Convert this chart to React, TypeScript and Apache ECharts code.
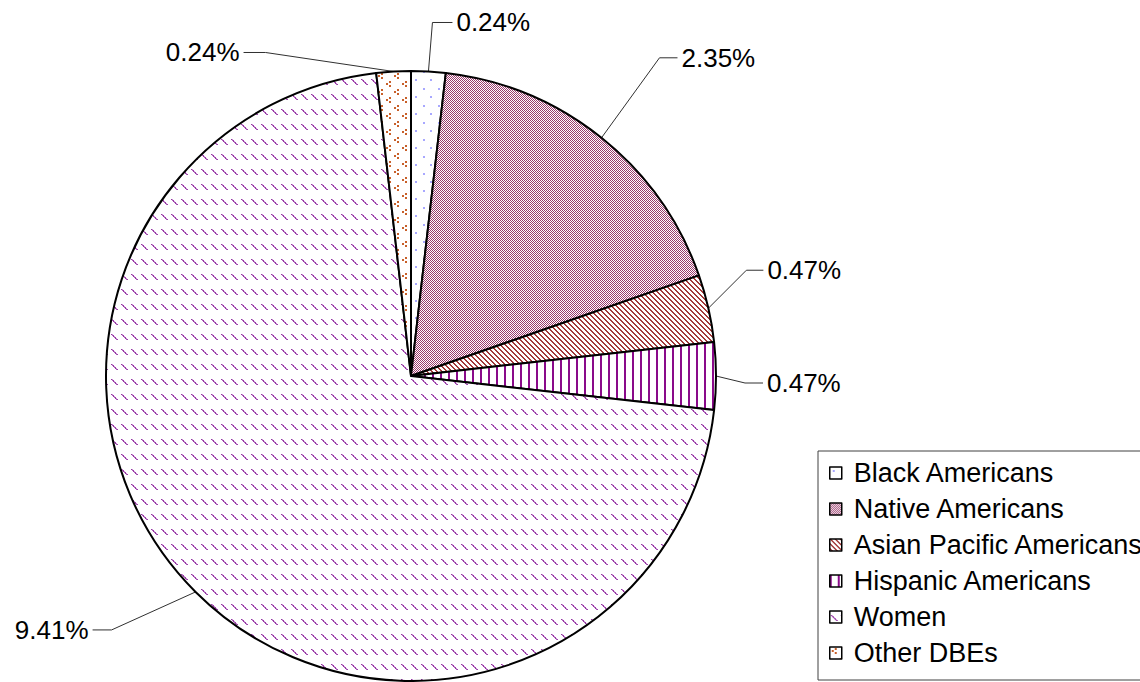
import React, { useEffect, useRef } from 'react';
import * as echarts from 'echarts';

const categories = [
  'Black Americans',
  'Native Americans',
  'Asian Pacific Americans',
  'Hispanic Americans',
  'Women',
  'Other DBEs',
];
const values = [0.24, 2.35, 0.47, 0.47, 9.41, 0.24];

// leader line layout (elbow offset from slice edge, then horizontal run)
const leaderElbow = [
  [4, -49],
  [58, -80],
  [38, -38],
  [29, 7],
  [-84, 38],
  [-128, -19],
];
const leaderRun = [20, 18, 17, 18, -19, -22];

const CX = 411;
const CY = 376;
const R = 305;

type Draw = (ctx: CanvasRenderingContext2D) => void;

function makeTile(w: number, h: number, draw: Draw) {
  const c = document.createElement('canvas');
  c.width = w;
  c.height = h;
  const ctx = c.getContext('2d') as CanvasRenderingContext2D;
  ctx.fillStyle = '#ffffff';
  ctx.fillRect(0, 0, w, h);
  draw(ctx);
  return c;
}

function px(ctx: CanvasRenderingContext2D, x: number, y: number, color: string, s = 1) {
  ctx.fillStyle = color;
  ctx.fillRect(x, y, s, s);
}

function patterns() {
  const black = makeTile(15, 17, (ctx) => {
    px(ctx, 3, 3, '#a8a8ff', 2);
    px(ctx, 10, 11, '#a8a8ff', 2);
  });
  const native = makeTile(2, 2, (ctx) => {
    px(ctx, 0, 0, '#9a3a6c');
    px(ctx, 1, 1, '#9a3a6c');
  });
  const asian = makeTile(5, 5, (ctx) => {
    for (let y = 0; y < 5; y++)
      for (let x = 0; x < 5; x++) {
        const d = (((x - y) % 5) + 5) % 5;
        if (d === 0 || d === 1) px(ctx, x, y, '#a33a3a');
      }
  });
  const hisp = makeTile(8, 1, (ctx) => {
    px(ctx, 0, 0, '#8a0a8a');
    px(ctx, 1, 0, '#8a0a8a');
  });
  const women = makeTile(10, 15, (ctx) => {
    for (let i = 0; i < 6; i++) {
      px(ctx, 1 + i, 4 + i, i % 2 === 0 ? '#93379f' : '#b05cbc');
      px(ctx, 2 + i, 4 + i, i % 2 === 0 ? '#c68ad0' : '#9a40a8');
    }
  });
  const other = makeTile(16, 16, (ctx) => {
    const c = '#c8602a';
    const lt = (ox: number, oy: number) => {
      px(ctx, ox + 3, oy, c, 2);
      px(ctx, ox, oy + 2, c, 2);
      px(ctx, ox + 3, oy + 4, c, 2);
    };
    lt(2, 1);
    lt(10, 9);
  });
  return [black, native, asian, hisp, women, other].map((img) => ({
    image: img,
    repeat: 'repeat',
  }));
}

export default function App() {
  const ref = useRef<HTMLDivElement>(null);
  useEffect(() => {
    if (!ref.current) return;
    const chart = echarts.init(ref.current, undefined, { renderer: 'svg' });
    const fills = patterns();
    const font = '"Liberation Sans", Arial, sans-serif';
    const total = values.reduce((a, b) => a + b, 0);

    const edgePoint = (idx: number) => {
      let before = 0;
      for (let i = 0; i < idx; i++) before += values[i];
      const mid = ((before + values[idx] / 2) / total) * Math.PI * 2;
      return [CX + R * Math.sin(mid), CY - R * Math.cos(mid)];
    };

    chart.setOption({
      animation: false,
      backgroundColor: '#ffffff',
      legend: {
        orient: 'vertical',
        left: 818,
        top: 451,
        padding: [7, 30, 12, 11],
        itemWidth: 12,
        itemHeight: 12,
        itemGap: 6,
        icon: 'rect',
        borderColor: '#404040',
        borderWidth: 1,
        backgroundColor: '#ffffff',
        itemStyle: { borderColor: '#000000', borderWidth: 1.5 },
        textStyle: {
          fontFamily: font,
          fontSize: 27,
          lineHeight: 30,
          color: '#000000',
          padding: [0, 0, 0, 7],
        },
        data: categories,
      },
      series: [
        {
          type: 'pie',
          center: [CX, CY],
          radius: R,
          startAngle: 90,
          clockwise: true,
          avoidLabelOverlap: false,
          minShowLabelAngle: 0,
          itemStyle: { borderColor: '#000000', borderWidth: 2 },
          emphasis: { disabled: true },
          label: {
            show: true,
            position: 'outside',
            fontFamily: font,
            fontSize: 26,
            color: '#000000',
            formatter: (p: any) => values[p.dataIndex].toFixed(2) + '%',
          },
          labelLine: {
            show: true,
            length: 20,
            length2: 20,
            smooth: false,
            lineStyle: { color: '#303030', width: 1 },
          },
          labelLayout: (p: any) => {
            const i = p.dataIndex;
            const pts = p.labelLinePoints;
            const e = pts && pts[0] ? pts[0] : edgePoint(i);
            const elbow = [e[0] + leaderElbow[i][0], e[1] + leaderElbow[i][1]];
            const end = [elbow[0] + leaderRun[i], elbow[1]];
            const right = leaderRun[i] > 0;
            return {
              x: end[0] + (right ? 4 : -4),
              y: end[1],
              align: right ? 'left' : 'right',
              verticalAlign: 'middle',
              labelLinePoints: [e, elbow, end],
            };
          },
          data: categories.map((name, i) => ({
            name,
            value: values[i],
            itemStyle: { color: fills[i] },
          })),
        },
      ],
    });
    return () => chart.dispose();
  }, []);
  return (
    <div
      ref={ref}
      style={{ position: 'fixed', left: 0, top: 0, width: 1140, height: 682, background: '#fff' }}
    />
  );
}
